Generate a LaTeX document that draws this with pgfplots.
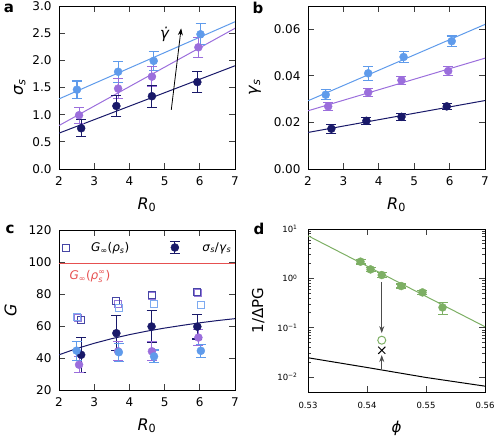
\documentclass[border=0pt]{standalone}
\usepackage{pgfplots}
\pgfplotsset{compat=1.18}
\usepackage{fontspec}
\setmainfont{DejaVu Sans}
\usetikzlibrary{arrows.meta}
\definecolor{lb}{RGB}{95,155,235}
\definecolor{pu}{RGB}{155,110,220}
\definecolor{nv}{RGB}{25,25,105}
\definecolor{gr}{RGB}{125,175,100}
\definecolor{redline}{RGB}{230,80,80}
\definecolor{sqnv}{RGB}{70,70,165}
\definecolor{sqlb}{RGB}{125,170,240}
\definecolor{sqpu}{RGB}{150,120,220}
\newcommand{\fs}[1]{\fontsize{#1}{#1}\selectfont}
\pgfplotsset{
  panel/.style={scale only axis, anchor=north west,
    tick align=inside, tick pos=both, major tick length=6pt,
    minor tick num=0,
    tick style={line width=0.9pt, color=black!75},
    axis line style={line width=0.9pt},
    /pgf/number format/assume math mode=true,
    ticklabel style={font=\fs{12}},
    xticklabel style={yshift=-4pt},
    yticklabel style={xshift=-4pt},
    label style={font=\fs{16}},
    xlabel style={yshift=-5pt},
    scaled ticks=false, clip=true},
  eb/.style={only marks, mark=*, mark size=4pt,
    error bars/y dir=both, error bars/y explicit,
    error bars/error bar style={line width=1.1pt},
    error bars/error mark options={rotate=90, mark size=5pt, line width=1.1pt}},
  fit/.style={no marks, line width=1pt},
}
\begin{document}
\begin{tikzpicture}
\path[use as bounding box] (0pt,0pt) rectangle (494pt,-437pt);
\node[font=\bfseries\fs{15}] at (9pt,-8pt) {a};
\node[font=\bfseries\fs{15}] at (258pt,-8pt) {b};
\node[font=\bfseries\fs{15}] at (10pt,-229pt) {c};
\node[font=\bfseries\fs{15}] at (259pt,-229pt) {d};
% ---------------- a
\begin{axis}[panel, at={(59pt,-6pt)}, width=176pt, height=163pt,
  xmin=2, xmax=7, ymin=0, ymax=3, xtick={2,3,4,5,6,7},
  ytick={0,0.5,1,1.5,2,2.5,3},
  yticklabel style={/pgf/number format/.cd, fixed, fixed zerofill, precision=1},
  xlabel={\textit{R}\textsubscript{0}}, ylabel={\textit{σ}\textsubscript{\textit{s}}}]
\addplot[fit, lb] coordinates {(2,1.29) (7,2.71)};
\addplot[fit, pu] coordinates {(2,0.80) (7,2.59)};
\addplot[fit, nv] coordinates {(2,0.66) (7,1.90)};
\addplot[eb, color=lb] table[y error=e] {
x y e
2.51 1.46 0.16
3.68 1.79 0.19
4.69 1.99 0.18
6.02 2.48 0.19
};
\addplot[eb, color=pu] table[y error=e] {
x y e
2.57 0.99 0.15
3.68 1.48 0.18
4.64 1.70 0.18
5.96 2.24 0.18
};
\addplot[eb, color=nv] table[y error=e] {
x y e
2.63 0.75 0.16
3.63 1.16 0.20
4.64 1.34 0.20
5.93 1.60 0.19
};
\draw[-{Stealth[length=7pt,width=5pt]}, line width=0.8pt] (axis cs:5.19,1.09) -- (axis cs:5.47,2.59);
\node[font=\fs{15}] at (axis cs:5.0,2.47) {\textit{γ̇}};
\end{axis}
% ---------------- b
\begin{axis}[panel, at={(308pt,-6pt)}, width=177pt, height=163pt,
  xmin=2, xmax=7, ymin=0, ymax=0.07, xtick={2,3,4,5,6,7},
  ytick={0,0.02,0.04,0.06},
  yticklabel style={/pgf/number format/.cd, fixed, fixed zerofill, precision=2},
  ylabel shift=6pt,
  xlabel={\textit{R}\textsubscript{0}}, ylabel={\textit{γ}\textsubscript{\textit{s}}}]
\addplot[fit, lb] coordinates {(2,0.0293) (7,0.0621)};
\addplot[fit, pu] coordinates {(2,0.0250) (7,0.0476)};
\addplot[fit, nv] coordinates {(2,0.0157) (7,0.0294)};
\addplot[eb, color=lb] table[y error=e] {
x y e
2.50 0.0319 0.0022
3.70 0.0411 0.0030
4.70 0.0481 0.0024
6.06 0.0549 0.0022
};
\addplot[eb, color=pu] table[y error=e] {
x y e
2.57 0.0269 0.0018
3.70 0.0329 0.0018
4.64 0.0381 0.0018
5.96 0.0421 0.0018
};
\addplot[eb, color=nv] table[y error=e] {
x y e
2.66 0.0173 0.0020
3.65 0.0207 0.0015
4.64 0.0224 0.0015
5.92 0.0269 0.0012
};
\end{axis}
% ---------------- c
\begin{axis}[panel, at={(59pt,-230pt)}, width=176pt, height=160pt,
  xmin=2, xmax=7, ymin=20, ymax=120, xtick={2,3,4,5,6,7},
  ytick={20,40,60,80,100,120},
  ylabel shift=5pt,
  xlabel={\textit{R}\textsubscript{0}}, ylabel={\textit{G}},
  legend columns=2,
  legend style={draw=none, fill=none, at={(0.0,0.95)}, anchor=north west,
    font=\fs{12}, /tikz/every even column/.append style={column sep=38pt}}]
\addlegendimage{only marks, mark=square, mark size=3.5pt, sqnv, line width=1pt}
\addlegendentry{\hspace{20pt}\textit{G}\textsubscript{∞}(\textit{ρ}\textsubscript{\textit{s}})}
\addlegendimage{legend image code/.code={
  \draw[nv, line width=1.1pt] (0.3cm,-6pt) -- (0.3cm,6pt);
  \draw[nv, line width=1.1pt] (0.3cm-5pt,6pt) -- (0.3cm+5pt,6pt);
  \draw[nv, line width=1.1pt] (0.3cm-5pt,-6pt) -- (0.3cm+5pt,-6pt);
  \fill[nv] (0.3cm,0pt) circle (4pt);}}
\addlegendentry{\hspace{20pt}\textit{σ}\textsubscript{\textit{s}}/\textit{γ}\textsubscript{\textit{s}}}
\addplot[color=redline, solid, mark=none, line width=1.4pt, forget plot] table {
x y
2 99
7 99
};
\node[redline, font=\fs{12}, anchor=west] at (axis cs:2.2,91) {\textit{G}\textsubscript{∞}(\textit{ρ}\rlap{\raisebox{5.5pt}{\fs{8}∞}}\raisebox{-3pt}{\fs{8}\textit{s}}\hspace{3pt})};
\addplot[fit, nv, forget plot] coordinates {(2,42.0) (2.5,45.9) (3,49.2) (3.5,52.1) (4,54.6) (4.5,56.8) (5,58.7) (5.5,60.4) (6,62.0) (6.5,63.4) (7,64.6)};
\addplot[only marks, mark=square, mark size=3.5pt, sqpu, line width=1pt, forget plot] coordinates {(2.55,65) (3.67,74) (4.64,79) (5.95,80.5)};
\addplot[only marks, mark=square, mark size=3.5pt, sqnv, line width=1pt, forget plot] coordinates {(2.63,63.5) (3.63,75.5) (4.64,79.5) (5.92,81)};
\addplot[only marks, mark=square, mark size=3.5pt, sqlb, line width=1pt, forget plot] coordinates {(2.5,65.5) (3.7,71.5) (4.7,73.5) (6.03,73)};
\addplot[eb, color=nv, forget plot] table[y error=e] {
x y e
2.63 42.0 10.8
3.63 55.5 11.0
4.63 59.7 10.0
5.93 59.6 7.7
};
\addplot[eb, color=pu, forget plot] table[y error=e] {
x y e
2.57 35.8 5.0
3.68 44.2 6.0
4.64 44.2 6.0
5.96 52.8 5.0
};
\addplot[eb, color=lb, forget plot] table[y error=e] {
x y e
2.50 44.6 6.0
3.70 43.6 5.5
4.70 41.0 4.0
6.03 44.5 4.0
};
\end{axis}
% ---------------- d
\begin{axis}[panel, at={(308pt,-229pt)}, width=177pt, height=163pt,
  ymode=log, xmin=0.53, xmax=0.56, ymin=0.005, ymax=10,
  xtick={0.53,0.54,0.55,0.56},
  xticklabel style={font=\fs{8.5}, yshift=-3pt, /pgf/number format/.cd, fixed, fixed zerofill, precision=2},
  ytick={0.01,0.1,1,10},
  yticklabels={10\textsuperscript{−2},10\textsuperscript{−1},10\textsuperscript{0},10\textsuperscript{1}},
  yticklabel style={font=\fs{8.5}, xshift=-3pt},
  label style={font=\fs{15}},
  ylabel shift=6pt,
  xlabel={\textit{ϕ}}, ylabel={1/ΔPG}]
\addplot[fit, gr] coordinates {(0.53,7.3) (0.56,0.105)};
\addplot[black, line width=1pt, no marks] coordinates {(0.53,0.0247) (0.54,0.0157) (0.55,0.00985) (0.56,0.00657)};
\addplot[eb, color=gr] table[y error plus=ep, y error minus=em] {
x y ep em
0.5389 2.18 0.25 0.22
0.5406 1.52 0.16 0.14
0.5425 1.17 0.12 0.11
0.5458 0.70 0.07 0.06
0.5494 0.52 0.05 0.05
0.5528 0.258 0.072 0.071
};
\addplot[only marks, mark=o, mark size=4pt, gr, line width=1pt] coordinates {(0.5425,0.056)};
\addplot[only marks, mark=x, mark size=5pt, black, line width=1pt] coordinates {(0.5425,0.035)};
\draw[-{Stealth[length=7pt,width=5pt]}, line width=0.8pt, black!70] (axis cs:0.5425,0.85) -- (axis cs:0.5425,0.078);
\draw[-{Stealth[length=7pt,width=5pt]}, line width=0.8pt, black!70] (axis cs:0.5425,0.0145) -- (axis cs:0.5425,0.028);
\end{axis}
\end{tikzpicture}
\end{document}
